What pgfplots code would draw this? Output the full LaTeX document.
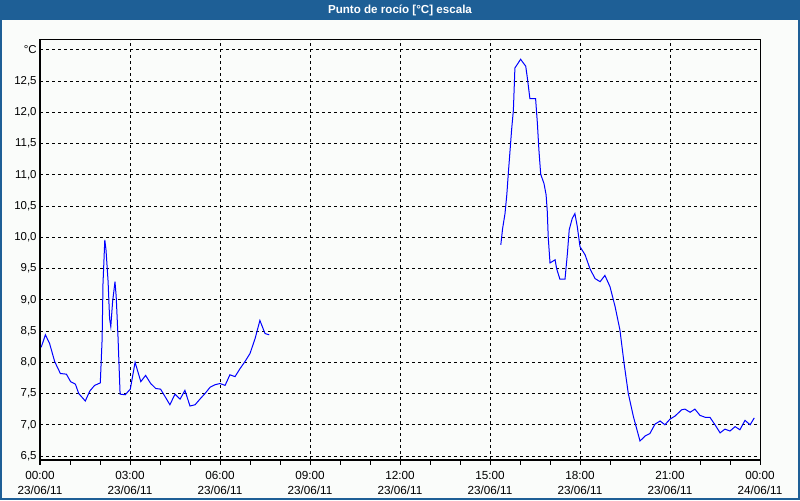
\documentclass[border=0pt]{standalone}
\usepackage{pgfplots}
\pgfplotsset{compat=1.18}
\usepackage{fontspec}
\setmainfont{Liberation Sans}
\definecolor{barblue}{RGB}{30,95,150}
\definecolor{bgwhite}{RGB}{250,252,250}
\definecolor{linblue}{RGB}{0,0,255}
\begin{document}
\begin{tikzpicture}
% frame and title bar (1px = 0.75pt)
\fill[barblue] (0pt,0pt) rectangle (600pt,375pt);
\fill[bgwhite] (1.5pt,1.5pt) rectangle (598.5pt,360pt);
\node[text=white,font=\bfseries\fontsize{8.7}{9}\selectfont] at (300pt,367.5pt) {Punto de rocío [°C] escala};
\begin{axis}[
    at={(30pt,30pt)}, anchor=south west,
    scale only axis, width=540pt, height=315pt,
    xmin=0, xmax=24, ymin=6.436, ymax=13.158,
    axis line style={black, line width=0.75pt},
    xtick={0,3,...,24},
    xticklabels={{00:00\\23/06/11},{03:00\\23/06/11},{06:00\\23/06/11},{09:00\\23/06/11},{12:00\\23/06/11},{15:00\\23/06/11},{18:00\\23/06/11},{21:00\\23/06/11},{00:00\\24/06/11}},
    minor x tick num=2,
    xtick pos=left, ytick pos=left,
    xtick align=outside,
    major tick length=3.75pt, minor tick length=3.75pt,
    tick style={black, line width=0.75pt},
    ytick={6.5,7,7.5,8,8.5,9,9.5,10,10.5,11,11.5,12,12.5,13},
    yticklabels={{6,5},{7,0},{7,5},{8,0},{8,5},{9,0},{9,5},{10,0},{10,5},{11,0},{11,5},{12,0},{12,5},{°C}},
    ytick style={draw=none},
    grid=major,
    major grid style={black, line width=0.75pt, dash pattern=on 2.25pt off 2.25pt},
    xticklabel style={align=center, font=\fontsize{8.8}{11.25}\selectfont, yshift=-1pt},
    yticklabel style={font=\fontsize{8.6}{10}\selectfont, xshift=1pt},
    clip=true,
]
\addplot[linblue, line width=0.75pt] coordinates {
(0.04,8.24)(0.18,8.44)(0.32,8.30)(0.49,8.01)(0.68,7.82)(0.88,7.81)(1.02,7.69)(1.18,7.65)(1.29,7.50)(1.51,7.38)(1.66,7.54)(1.82,7.63)(2.01,7.67)(2.07,8.36)(2.10,9.26)(2.16,9.96)(2.20,9.80)(2.27,9.29)(2.32,8.70)(2.36,8.57)(2.42,8.97)(2.50,9.29)(2.54,9.05)(2.60,8.41)(2.67,7.49)(2.84,7.48)(3.01,7.57)(3.17,8.00)(3.36,7.69)(3.52,7.79)(3.69,7.66)(3.86,7.58)(4.02,7.57)(4.17,7.45)(4.33,7.32)(4.50,7.49)(4.67,7.41)(4.83,7.55)(5.00,7.30)(5.17,7.32)(5.33,7.41)(5.50,7.50)(5.67,7.60)(5.83,7.64)(6.00,7.66)(6.17,7.63)(6.33,7.80)(6.50,7.77)(6.67,7.90)(6.83,8.01)(7.00,8.14)(7.17,8.38)(7.33,8.67)(7.50,8.46)(7.64,8.44)
};
\addplot[linblue, line width=0.75pt] coordinates {
(15.36,9.88)(15.42,10.14)(15.50,10.38)(15.56,10.68)(15.61,11.02)(15.67,11.40)(15.72,11.72)(15.78,12.04)(15.83,12.71)(15.94,12.79)(16.02,12.85)(16.11,12.79)(16.19,12.74)(16.24,12.57)(16.33,12.22)(16.52,12.22)(16.58,11.82)(16.63,11.40)(16.69,11.01)(16.80,10.86)(16.87,10.68)(16.91,10.41)(16.94,10.01)(17.00,9.59)(17.17,9.64)(17.22,9.50)(17.33,9.33)(17.50,9.33)(17.58,9.74)(17.64,10.12)(17.74,10.30)(17.83,10.38)(17.91,10.17)(18.00,9.85)(18.17,9.72)(18.33,9.50)(18.50,9.34)(18.67,9.29)(18.83,9.39)(19.00,9.21)(19.17,8.89)(19.33,8.52)(19.47,7.98)(19.61,7.50)(19.78,7.13)(20.00,6.74)(20.17,6.82)(20.33,6.86)(20.50,7.01)(20.67,7.06)(20.83,7.00)(21.00,7.09)(21.17,7.14)(21.39,7.24)(21.50,7.25)(21.67,7.20)(21.83,7.25)(22.00,7.15)(22.17,7.12)(22.33,7.12)(22.50,7.00)(22.67,6.87)(22.83,6.93)(23.00,6.90)(23.17,6.97)(23.33,6.92)(23.50,7.07)(23.67,7.00)(23.81,7.11)
};
\end{axis}
\end{tikzpicture}
\end{document}
